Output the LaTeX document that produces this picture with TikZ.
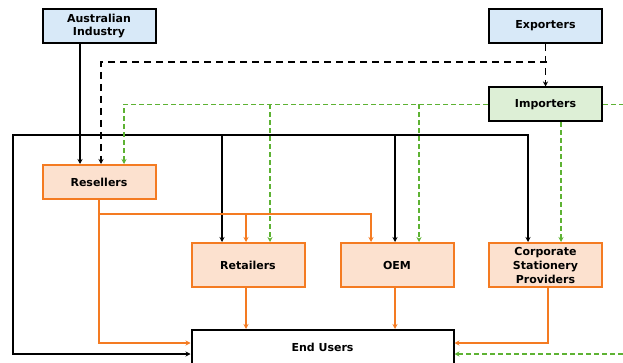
\documentclass[tikz,border=0pt]{standalone}
\usepackage{fontspec}
\setmainfont{DejaVu Sans}
\usetikzlibrary{arrows.meta}
\definecolor{boxblue}{HTML}{D8E9F8}
\definecolor{boxgreen}{HTML}{DDEFD6}
\definecolor{boxpeach}{HTML}{FCE1CF}
\definecolor{lineorange}{HTML}{F47B22}
\definecolor{linegreen}{HTML}{5DB233}
\begin{document}
\begin{tikzpicture}[x=1pt, y=-1pt,
    every node/.style={font=\fontsize{11}{13}\selectfont\bfseries, align=center, inner sep=1pt},
    topbox/.style={draw=black, line width=2pt, minimum width=113pt, minimum height=34pt},
    chanbox/.style={draw=lineorange, fill=boxpeach, line width=2pt, minimum width=113pt, minimum height=44pt},
    blk/.style={draw=black, line width=1.5pt, -{Stealth[length=5pt,width=5pt]}},
    blkdash/.style={blk, dash pattern=on 7pt off 5pt},
    org/.style={draw=lineorange, line width=1.5pt, -{Stealth[length=5pt,width=5pt]}},
    grn/.style={draw=linegreen, line width=1.5pt, dash pattern=on 5pt off 3pt, -{Stealth[length=5pt,width=5pt]}}]
  \useasboundingbox (0,0) rectangle (623,363);
  % boxes
  \node[topbox, fill=boxblue]  (aus)  at ( 99,  26){Australian\\Industry};
  \node[topbox, fill=boxblue]  (exp)  at (545.5,26){Exporters};
  \node[topbox, fill=boxgreen] (imp)  at (545.5,104.5){Importers};
  \node[chanbox, minimum height=34pt] (res) at (99, 182){Resellers};
  \node[chanbox] (ret)  at (248,  265){Retailers};
  \node[chanbox] (oem)  at (397,  265){OEM};
  \node[chanbox, font=\fontsize{11}{14}\selectfont\bfseries] (corp) at (545.5,265){Corporate\\Stationery\\Providers};
  \node[draw=black, fill=white, line width=2pt, minimum width=262pt, minimum height=34pt] (end) at (322.5,347){End Users};
  % helper points
  \coordinate (expJoin) at (547,62);
  \coordinate (busL)    at (13,135);
  \coordinate (orgY)    at (0,214);
  \coordinate (farR)    at (640,104.5);
  \coordinate (ausBlk)  at ([xshift=-19pt]aus.south);
  \coordinate (resBlk)  at ([xshift=-19pt]res.north);
  \coordinate (resDsh)  at ([xshift=2pt]res.north);
  \coordinate (resGrn)  at ([xshift=25pt]res.north);
  \coordinate (retBlk)  at ([xshift=-26pt]ret.north);
  \coordinate (retOrg)  at ([xshift=-2pt]ret.north);
  \coordinate (retGrn)  at ([xshift=22pt]ret.north);
  \coordinate (oemOrg)  at ([xshift=-26pt]oem.north);
  \coordinate (oemBlk)  at ([xshift=-2pt]oem.north);
  \coordinate (oemGrn)  at ([xshift=22pt]oem.north);
  \coordinate (corpBlk) at ([xshift=-17.5pt]corp.north);
  \coordinate (corpGrn) at ([xshift=15.5pt]corp.north);
  % black lines
  \draw[blk] (ausBlk) -- (resBlk);
  \draw[blk, {Stealth[length=5pt,width=5pt]}-{Stealth[length=5pt,width=5pt]}] ([yshift=-7pt]end.west) -| (busL) -| (corpBlk);
  \draw[blk] (retBlk |- busL) -- (retBlk);
  \draw[blk] (oemBlk |- busL) -- (oemBlk);
  % black dashed lines
  \draw[blkdash] (exp.south) -- (imp.north);
  \draw[blkdash] (expJoin) -| (resDsh);
  % green dashed lines
  \draw[grn] (imp.west) -| (resGrn);
  \draw[grn] (retGrn |- imp.west) -- (retGrn);
  \draw[grn] (oemGrn |- imp.west) -- (oemGrn);
  \draw[grn] (corpGrn |- imp.south) -- (corpGrn);
  \draw[grn] (imp.east) -- (farR) |- ([yshift=-7pt]end.east);
  % orange lines
  \draw[org] (res.south) |- ([yshift=4pt]end.west);
  \draw[org] (res.south |- orgY) -| (oemOrg);
  \draw[org] (retOrg |- orgY) -- (retOrg);
  \draw[org] ([xshift=-2pt]ret.south) -- ([xshift=-2pt]ret.south |- end.north);
  \draw[org] ([xshift=-2pt]oem.south) -- ([xshift=-2pt]oem.south |- end.north);
  \draw[org] ([xshift=2.5pt]corp.south) |- ([yshift=4pt]end.east);
\end{tikzpicture}
\end{document}
